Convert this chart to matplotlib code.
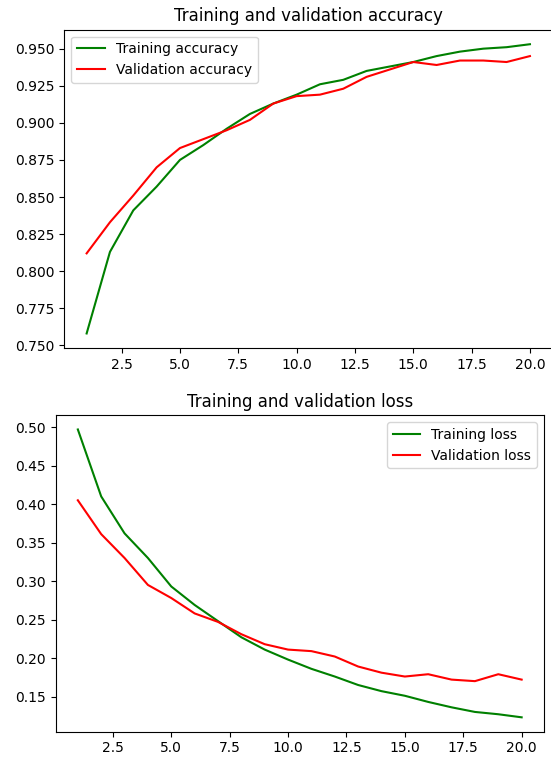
import matplotlib.pyplot as plt
import numpy as np

epochs = np.arange(1, 21)

train_acc = [0.758, 0.813, 0.841, 0.857, 0.875, 0.885, 0.896, 0.906, 0.913, 0.919,
             0.926, 0.929, 0.935, 0.938, 0.941, 0.945, 0.948, 0.950, 0.951, 0.953]
val_acc = [0.812, 0.833, 0.851, 0.870, 0.883, 0.889, 0.895, 0.902, 0.913, 0.918,
           0.919, 0.923, 0.931, 0.936, 0.941, 0.939, 0.942, 0.942, 0.941, 0.945]

train_loss = [0.497, 0.410, 0.362, 0.330, 0.293, 0.269, 0.248, 0.227, 0.211, 0.198,
              0.186, 0.176, 0.165, 0.157, 0.151, 0.143, 0.136, 0.130, 0.127, 0.123]
val_loss = [0.405, 0.361, 0.330, 0.295, 0.278, 0.258, 0.247, 0.231, 0.218, 0.211,
            0.209, 0.202, 0.189, 0.181, 0.176, 0.179, 0.172, 0.170, 0.179, 0.172]

fig = plt.figure(figsize=(5.51, 7.63), dpi=100)

# accuracy plot - the screenshot cuts it off on the right, so no right spine
ax1 = fig.add_axes([0.117, 0.544, 0.885, 0.417])
ax1.plot(epochs, train_acc, 'g', label='Training accuracy')
ax1.plot(epochs, val_acc, 'r', label='Validation accuracy')
ax1.set_title('Training and validation accuracy')
ax1.legend(loc='upper left')
ax1.spines['right'].set_visible(False)

# loss plot
ax2 = fig.add_axes([0.101, 0.041, 0.886, 0.415])
ax2.plot(epochs, train_loss, 'g', label='Training loss')
ax2.plot(epochs, val_loss, 'r', label='Validation loss')
ax2.set_title('Training and validation loss')
ax2.legend(loc='upper right')

fig.savefig('out.png', dpi=100)
